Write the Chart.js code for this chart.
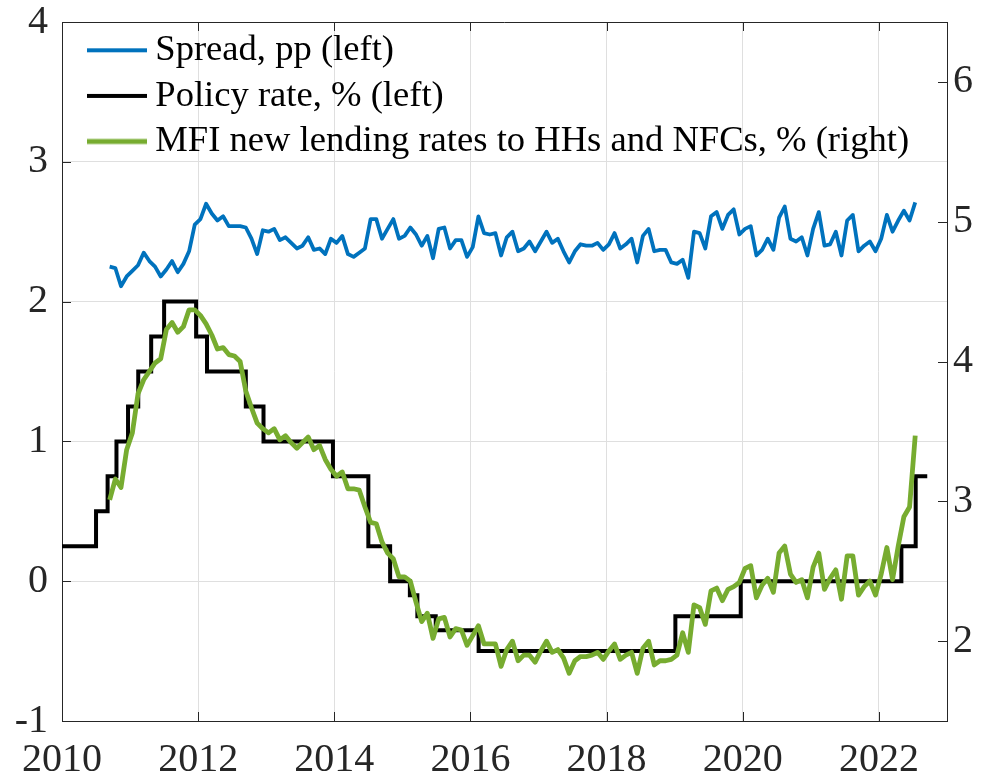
<!DOCTYPE html>
<html>
<head>
<meta charset="utf-8">
<script src="https://cdn.jsdelivr.net/npm/chart.js@4.4.1/dist/chart.umd.min.js"></script>
<style>
html,body{margin:0;padding:0;background:#ffffff;}
#wrap{width:981px;height:773px;}
</style>
</head>
<body>
<div id="wrap"><canvas id="c" width="981" height="773"></canvas></div>
<script>
// ---------------- data ----------------
const xTicks = [2010, 2012, 2014, 2016, 2018, 2020, 2022];
const leftTicks = [-1, 0, 1, 2, 3, 4];
const rightTicks = [2, 3, 4, 5, 6];

const seriesNames = [
  'Spread, pp (left)',
  'Policy rate, % (left)',
  'MFI new lending rates to HHs and NFCs, % (right)'
];

// monthly observations (Sep 2010 .. Jul 2022)
const firstMonth = 2010.70;

const spread = [
  2.25,2.24,2.11,2.18,2.22,2.26,2.35,2.29,2.25,2.18,2.23,2.29,2.21,2.27,2.36,2.55,
  2.59,2.70,2.63,2.58,2.61,2.54,2.54,2.54,2.53,2.45,2.34,2.51,2.50,2.52,2.44,2.46,
  2.42,2.38,2.40,2.46,2.37,2.38,2.34,2.45,2.42,2.47,2.34,2.32,2.35,2.38,2.59,2.59,
  2.45,2.52,2.59,2.45,2.47,2.53,2.48,2.40,2.47,2.31,2.52,2.53,2.38,2.44,2.44,2.32,
  2.39,2.61,2.49,2.48,2.49,2.33,2.46,2.50,2.36,2.38,2.43,2.36,2.43,2.50,2.42,2.45,
  2.36,2.28,2.36,2.41,2.40,2.40,2.42,2.37,2.41,2.49,2.38,2.41,2.45,2.28,2.47,2.52,
  2.36,2.37,2.37,2.28,2.27,2.30,2.17,2.50,2.49,2.38,2.61,2.64,2.52,2.62,2.66,2.48,
  2.52,2.54,2.33,2.37,2.45,2.37,2.60,2.68,2.45,2.43,2.46,2.33,2.52,2.64,2.40,2.41,
  2.50,2.33,2.58,2.62,2.36,2.40,2.43,2.36,2.45,2.62,2.50,2.58,2.65,2.58,2.71
];

const lending = [
  3.01,3.16,3.10,3.37,3.49,3.77,3.87,3.93,3.99,4.02,4.23,4.28,4.21,4.25,4.37,4.37,
  4.33,4.27,4.19,4.09,4.10,4.05,4.04,4.00,3.79,3.67,3.56,3.52,3.49,3.52,3.44,3.47,
  3.42,3.38,3.42,3.46,3.37,3.40,3.30,3.23,3.18,3.21,3.09,3.09,3.08,2.96,2.85,2.84,
  2.71,2.63,2.59,2.46,2.46,2.43,2.28,2.14,2.20,2.02,2.16,2.17,2.03,2.09,2.08,1.97,
  2.04,2.11,1.98,1.98,1.98,1.82,1.94,2.00,1.86,1.90,1.90,1.85,1.93,2.00,1.92,1.94,
  1.88,1.77,1.86,1.89,1.89,1.90,1.92,1.87,1.93,1.98,1.87,1.90,1.92,1.77,1.95,2.00,
  1.83,1.86,1.86,1.87,1.90,2.06,1.92,2.26,2.24,2.12,2.36,2.38,2.29,2.37,2.39,2.42,
  2.52,2.54,2.31,2.40,2.45,2.35,2.63,2.68,2.48,2.42,2.44,2.31,2.53,2.63,2.37,2.45,
  2.51,2.30,2.61,2.61,2.33,2.39,2.43,2.33,2.48,2.67,2.44,2.68,2.89,2.96,3.47
];

// policy rate change dates and levels (held until next date)
const policyDates = [2010.00,2010.50,2010.67,2010.80,2010.97,2011.12,2011.31,2011.50,2011.97,2012.13,
  2012.70,2012.96,2013.98,2014.50,2014.82,2015.11,2015.22,2015.49,2016.12,2019.01,2019.97,2022.33,2022.54,2022.71];
const policyRates = [0.25,0.50,0.75,1.00,1.25,1.50,1.75,2.00,1.75,1.50,
  1.25,1.00,0.75,0.25,0.00,-0.10,-0.25,-0.35,-0.50,-0.25,0.00,0.25,0.75,0.75];

// ---------------- styling ----------------
const FONT = "'Liberation Serif', 'Times New Roman', Times, serif";
const axisColor = '#262626';
const gridColor = '#dfdfdf';
const colors = ['#0072BD', '#000000', '#77AC30'];
const widths = [3.8, 4, 4.8];
const tickLen = 9;

function monthly(values) {
  return values.map((v, i) => ({ x: firstMonth + i / 12, y: v }));
}

// legend sample: a short line drawn at the right part of a small canvas
function legendLine(color, w) {
  const cv = document.createElement('canvas');
  cv.width = 86; cv.height = 10;
  const g = cv.getContext('2d');
  g.strokeStyle = color; g.lineWidth = w;
  g.beginPath(); g.moveTo(26, 5); g.lineTo(86, 5); g.stroke();
  return cv;
}

const boxPlugin = {
  id: 'boxTicks',
  beforeDatasetsDraw(chart) {
    const { ctx, chartArea: a, scales } = chart;
    ctx.save();
    ctx.strokeStyle = axisColor;
    ctx.lineWidth = 1;
    ctx.beginPath();
    ctx.moveTo(a.left, Math.round(a.top) + 0.5);
    ctx.lineTo(a.right, Math.round(a.top) + 0.5);
    xTicks.forEach(v => {
      const px = Math.round(scales.x.getPixelForValue(v)) + 0.5;
      ctx.moveTo(px, a.bottom); ctx.lineTo(px, a.bottom - tickLen);
      ctx.moveTo(px, a.top); ctx.lineTo(px, a.top + tickLen);
    });
    leftTicks.forEach(v => {
      const py = Math.round(scales.y.getPixelForValue(v)) + 0.5;
      ctx.moveTo(a.left, py); ctx.lineTo(a.left + tickLen, py);
    });
    rightTicks.forEach(v => {
      const py = Math.round(scales.y2.getPixelForValue(v)) + 0.5;
      ctx.moveTo(a.right, py); ctx.lineTo(a.right - tickLen, py);
    });
    ctx.stroke();
    ctx.restore();
  }
};

function noPad(s) {
  s.paddingTop = 0; s.paddingBottom = 0; s.paddingLeft = 0; s.paddingRight = 0;
}

const ctx = document.getElementById('c').getContext('2d');
new Chart(ctx, {
  type: 'line',
  data: {
    datasets: [
      {
        label: seriesNames[0],
        data: monthly(spread),
        yAxisID: 'y',
        borderColor: colors[0], backgroundColor: colors[0],
        borderWidth: widths[0], borderJoinStyle: 'round',
        pointRadius: 0, pointStyle: legendLine(colors[0], widths[0]),
        tension: 0, order: 2
      },
      {
        label: seriesNames[1],
        data: policyDates.map((d, i) => ({ x: d, y: policyRates[i] })),
        yAxisID: 'y',
        stepped: 'before',
        borderColor: colors[1], backgroundColor: colors[1],
        borderWidth: widths[1], borderJoinStyle: 'miter',
        pointRadius: 0, pointStyle: legendLine(colors[1], widths[1]),
        tension: 0, order: 1
      },
      {
        label: seriesNames[2],
        data: monthly(lending),
        yAxisID: 'y2',
        borderColor: colors[2], backgroundColor: colors[2],
        borderWidth: widths[2], borderJoinStyle: 'round',
        pointRadius: 0, pointStyle: legendLine(colors[2], widths[2]),
        tension: 0, order: 0
      }
    ]
  },
  options: {
    responsive: false,
    animation: false,
    devicePixelRatio: 1,
    layout: { padding: { top: 22, left: 0, right: 0, bottom: 0 } },
    plugins: {
      title: { display: false },
      tooltip: { enabled: false },
      legend: {
        display: true,
        position: 'chartArea',
        align: 'start',
        title: {
          display: true,
          text: ' ',
          font: { family: FONT, size: 1, lineHeight: 1 },
          padding: { top: 22, bottom: 0 }
        },
        labels: {
          usePointStyle: true,
          pointStyleWidth: 66,
          boxHeight: 36,
          padding: 9,
          color: '#000000',
          font: { family: FONT, size: 36.6 },
          sort: (a, b) => a.datasetIndex - b.datasetIndex
        }
      }
    },
    scales: {
      x: {
        type: 'linear',
        min: 2010, max: 2023,
        afterBuildTicks: s => { s.ticks = xTicks.map(v => ({ value: v })); },
        afterFit: s => { s.height = 52; noPad(s); },
        ticks: {
          callback: v => String(v),
          font: { family: FONT, size: 40 },
          color: axisColor,
          padding: 15,
          maxRotation: 0,
          autoSkip: false
        },
        grid: { color: gridColor, lineWidth: 1, drawTicks: false },
        border: { color: axisColor, width: 1 }
      },
      y: {
        type: 'linear',
        position: 'left',
        min: -1, max: 4,
        afterBuildTicks: s => { s.ticks = leftTicks.map(v => ({ value: v })); },
        afterFit: s => { s.width = 62; noPad(s); },
        ticks: {
          callback: v => String(v),
          font: { family: FONT, size: 40 },
          color: axisColor,
          padding: 14
        },
        grid: { color: gridColor, lineWidth: 1, drawTicks: false },
        border: { color: axisColor, width: 1 }
      },
      y2: {
        type: 'linear',
        position: 'right',
        min: 1.429, max: 6.429,
        afterBuildTicks: s => { s.ticks = rightTicks.map(v => ({ value: v })); },
        afterFit: s => { s.width = 34; noPad(s); },
        ticks: {
          callback: v => String(v),
          font: { family: FONT, size: 40 },
          color: axisColor,
          padding: 6
        },
        grid: { drawOnChartArea: false, drawTicks: false },
        border: { color: axisColor, width: 1 }
      }
    }
  },
  plugins: [boxPlugin]
});
</script>
</body>
</html>
